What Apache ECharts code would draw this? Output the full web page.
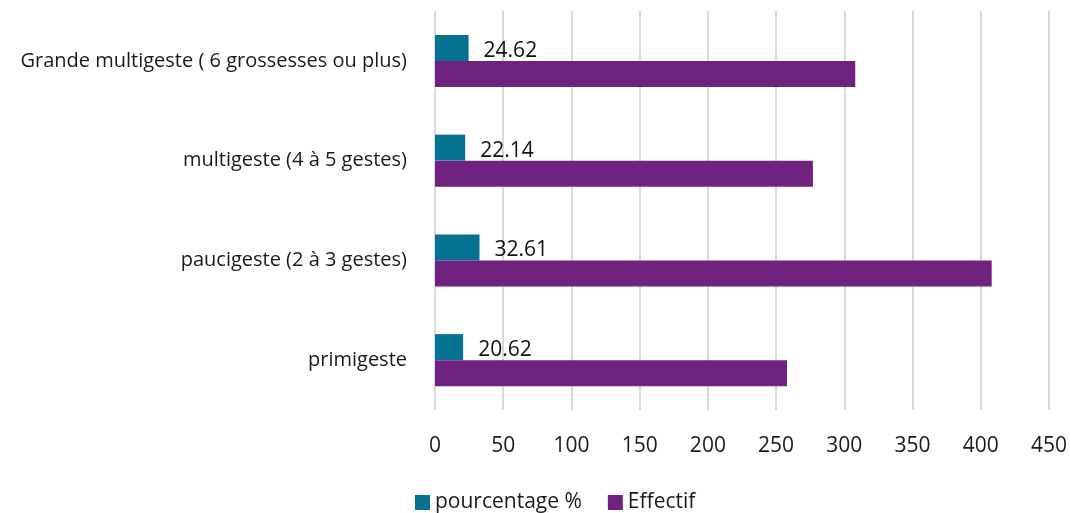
<!DOCTYPE html>
<html>
<head>
<meta charset="utf-8">
<script src="https://cdn.jsdelivr.net/npm/echarts@6/dist/echarts.min.js"></script>
<style>
  html, body { margin: 0; padding: 0; background: #fff; }
  #chart { width: 1070px; height: 513px; }
</style>
</head>
<body>
<div id="chart"></div>
<script>
const categories = [
  "primigeste",
  "paucigeste (2 à 3 gestes)",
  "multigeste (4 à 5 gestes)",
  "Grande multigeste ( 6 grossesses ou plus)",
];
const pourcentage = [20.62, 32.61, 22.14, 24.62];
const effectif = [258, 408, 277, 308];

const font = "'Open Sans', Lato, sans-serif";

const chart = echarts.init(document.getElementById("chart"));

chart.setOption({
  animation: false,
  textStyle: { fontFamily: font },
  grid: { left: 435, right: 20, top: 11, bottom: 103, containLabel: false },
  legend: {
    bottom: -5,
    left: 410,
    itemWidth: 15,
    itemHeight: 15,
    itemGap: 26,
    icon: "rect",
    data: ["pourcentage %", "Effectif"],
    textStyle: { fontSize: 21, color: "#1a1a1a", fontFamily: font },
  },
  xAxis: {
    type: "value",
    min: 0,
    max: 450,
    interval: 50,
    axisLine: { show: false },
    axisTick: { show: false },
    axisLabel: { fontSize: 21, color: "#1a1a1a", margin: 26, fontFamily: font },
    splitLine: { lineStyle: { color: "#d9d9d9", width: 2 } },
  },
  yAxis: {
    type: "category",
    data: categories,
    axisLine: { show: false },
    axisTick: { show: false },
    axisLabel: { fontSize: 20, color: "#1a1a1a", margin: 28, fontFamily: font },
  },
  series: [
    {
      name: "pourcentage %",
      type: "bar",
      data: pourcentage,
      barWidth: 26,
      barGap: "0%",
      itemStyle: { color: "#05728f" },
      label: {
        show: true,
        position: "right",
        distance: 15,
        offset: [0, 3],
        fontSize: 21,
        color: "#111",
        fontFamily: font,
      },
    },
    {
      name: "Effectif",
      type: "bar",
      data: effectif,
      barWidth: 26,
      barGap: "0%",
      itemStyle: { color: "#70227f" },
    },
  ],
});
</script>
</body>
</html>
